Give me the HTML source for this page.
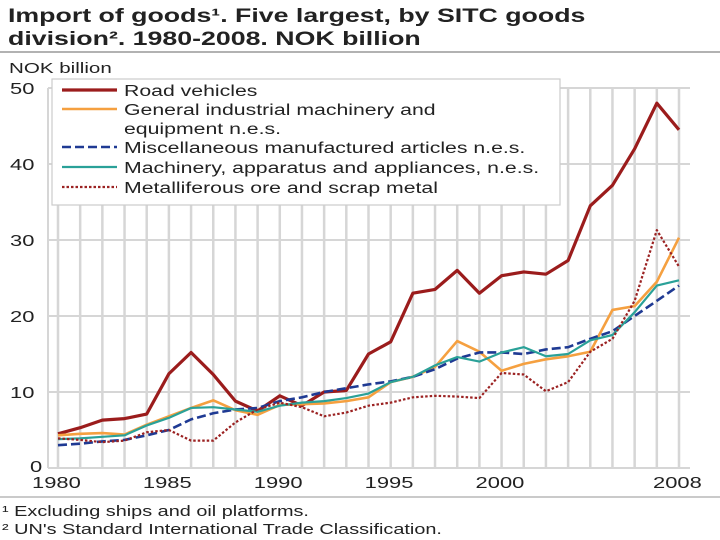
<!DOCTYPE html>
<html><head><meta charset="utf-8"><style>
body{margin:0;background:#fff;font-family:"Liberation Sans",sans-serif;}
#wrap{position:relative;width:720px;height:540px;overflow:hidden;}
</style></head><body>
<div id="wrap">
<svg id="svg" width="720" height="540" style="position:absolute;left:0;top:0"></svg>
</div>
<script>
const years=[1980,1981,1982,1983,1984,1985,1986,1987,1988,1989,1990,1991,1992,1993,1994,1995,1996,1997,1998,1999,2000,2001,2002,2003,2004,2005,2006,2007,2008];
const road=[4.5,5.3,6.3,6.5,7.1,12.4,15.2,12.3,8.8,7.5,9.5,8.2,10,10.2,15,16.6,23,23.5,26,23,25.3,25.8,25.5,27.3,34.5,37.2,42,48,44.5];
const general=[4.3,4.5,4.6,4.4,5.7,6.8,7.9,8.9,7.6,7.0,8.3,8.4,8.5,8.8,9.3,11.3,12,13.3,16.7,15.3,12.8,13.7,14.3,14.7,15.3,20.8,21.3,24.5,30.3];
const misc=[3.0,3.2,3.5,3.7,4.3,5.0,6.4,7.2,7.7,7.9,8.8,9.3,10.0,10.5,11.0,11.4,12.0,13.0,14.4,15.2,15.2,15.0,15.6,15.9,17.0,18.0,20.0,22.0,24.0];
const machinery=[3.8,3.9,4.1,4.3,5.6,6.6,7.9,8.0,7.7,7.4,8.2,8.6,8.8,9.2,9.8,11.3,12.0,13.5,14.6,14.0,15.2,15.9,14.7,15.0,16.8,17.5,20.5,24.0,24.7];
const metal=[3.9,3.7,3.4,3.6,4.7,5.0,3.6,3.6,6.0,7.7,8.6,8.0,6.8,7.3,8.2,8.6,9.3,9.5,9.4,9.2,12.5,12.3,10.1,11.3,15.3,17.0,22.0,31.3,26.5];
const yTicks=[0,10,20,30,40,50];
const xLabels=[1980,1985,1990,1995,2000,2008];
const series=[
 {name:"Road vehicles",data:road,color:"#9b1c1c",w:3.2,dash:"",id:"road-vehicles"},
 {name:"General industrial machinery and|equipment n.e.s.",data:general,color:"#f5a040",w:2.6,dash:"",id:"general-industrial-machinery"},
 {name:"Miscellaneous manufactured articles n.e.s.",data:misc,color:"#1f3a93",w:2.6,dash:"9,4",id:"miscellaneous-manufactured"},
 {name:"Machinery, apparatus and appliances, n.e.s.",data:machinery,color:"#2aa198",w:2.2,dash:"",id:"machinery-apparatus"},
 {name:"Metalliferous ore and scrap metal",data:metal,color:"#9b2222",w:2.2,dash:"2.5,2",id:"metalliferous-ore"}];
const X0=58,X1=679,Y0=468,Y50=88,SX=1.37;
const x=y=>X0+(y-1980)*(X1-X0)/28;
const yv=v=>Y0-v*(Y0-Y50)/50;
const NS="http://www.w3.org/2000/svg",svg=document.getElementById("svg");
function mk(t,a,p){const e=document.createElementNS(NS,t);for(const k in a)e.setAttribute(k,a[k]);(p||svg).appendChild(e);return e;}
function txt(s,a,p){const e=mk("text",a,p);e.textContent=s;const L=e.getComputedTextLength();if(L>0){e.setAttribute("textLength",L*SX);e.setAttribute("lengthAdjust","spacingAndGlyphs");}return e;}
let tt=txt("Import of goods¹. Five largest, by SITC goods",{x:8,y:22,"font-size":19.5,"font-weight":"bold",fill:"#222"});


tt=txt("division². 1980-2008. NOK billion",{x:8,y:45,"font-size":19.5,"font-weight":"bold",fill:"#222"});


mk("line",{x1:0,x2:720,y1:52,y2:52,stroke:"#999","stroke-width":1.5});
mk("line",{x1:0,x2:720,y1:497,y2:497,stroke:"#aaa","stroke-width":1.2});
let t=txt("NOK billion",{x:9,y:73,"font-size":15,fill:"#222"});


years.forEach(yr=>{const l=mk("line",{x1:x(yr),x2:x(yr),y1:Y50,y2:Y0,stroke:"#d6d6d6","stroke-width":2.5});

});
yTicks.forEach(v=>{const l=mk("line",{x1:48,x2:690,y1:yv(v),y2:yv(v),stroke:"#d6d6d6","stroke-width":2});


const tx=txt(String(v),{x:v==0?30:10,y:yv(v)+(v==0?4:6),"font-size":16,fill:"#222"});

});
mk("line",{x1:48,x2:48,y1:Y50,y2:Y0,stroke:"#d6d6d6","stroke-width":2});
xLabels.forEach(v=>{const tx=txt(String(v),{x:x(v)-26,y:488,"font-size":16,fill:"#222"});

});
series.forEach(s=>{const p=mk("polyline",{points:s.data.map((v,i)=>x(years[i])+","+yv(v)).join(" "),fill:"none",stroke:s.color,"stroke-width":s.w,"stroke-dasharray":s.dash,"stroke-linejoin":"round"});

});
const lg=mk("g",{});


mk("rect",{x:52,y:79,width:508,height:126,fill:"#fff",stroke:"#ccc","stroke-width":1.2},lg);
const rows=[96,115,153,173,193];
series.forEach((s,i)=>{const ry=rows[i]-6;
const ln=mk("line",{x1:62,x2:117,y1:ry,y2:ry,stroke:s.color,"stroke-width":s.w,"stroke-dasharray":s.dash},lg);


s.name.split("|").forEach((nm,j)=>{const tx=txt(nm,{x:124,y:rows[i]+j*19,"font-size":15.5,fill:"#222"},lg);

});});
[["¹ Excluding ships and oil platforms.",516],["² UN's Standard International Trade Classification.",534]].forEach(f=>{const tx=txt(f[0],{x:2,y:f[1],"font-size":14.5,fill:"#222"});

});
</script>
</body></html>
